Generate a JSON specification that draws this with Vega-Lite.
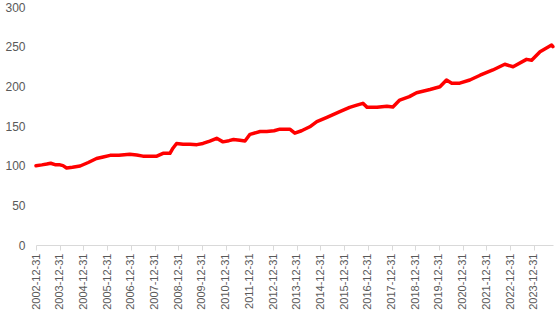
{
  "$schema": "https://vega.github.io/schema/vega-lite/v6.json",
  "width": 517,
  "height": 238,
  "autosize": {"type": "none"},
  "padding": {"left": 36, "top": 7, "right": 5, "bottom": 71},
  "background": "white",
  "config": {"view": {"stroke": null}, "font": "Liberation Sans"},
  "data": {"values": [
    {"date": "2002-12-31", "v": 100},
    {"date": "2003-03-31", "v": 101},
    {"date": "2003-06-15", "v": 102},
    {"date": "2003-08-15", "v": 103},
    {"date": "2003-10-31", "v": 101},
    {"date": "2004-01-05", "v": 101},
    {"date": "2004-02-20", "v": 100},
    {"date": "2004-04-15", "v": 97},
    {"date": "2004-07-15", "v": 98},
    {"date": "2004-11-10", "v": 99.6},
    {"date": "2005-03-15", "v": 104},
    {"date": "2005-07-20", "v": 109},
    {"date": "2005-10-31", "v": 111},
    {"date": "2006-02-15", "v": 113},
    {"date": "2006-06-30", "v": 113},
    {"date": "2006-12-15", "v": 114.5},
    {"date": "2007-03-31", "v": 113.5},
    {"date": "2007-07-05", "v": 112},
    {"date": "2007-10-31", "v": 112},
    {"date": "2008-02-05", "v": 112},
    {"date": "2008-05-10", "v": 115.5},
    {"date": "2008-08-25", "v": 115.5},
    {"date": "2008-10-10", "v": 122},
    {"date": "2008-12-05", "v": 128},
    {"date": "2009-03-15", "v": 127},
    {"date": "2009-07-01", "v": 127},
    {"date": "2009-10-15", "v": 126.5},
    {"date": "2010-01-15", "v": 128},
    {"date": "2010-05-01", "v": 131},
    {"date": "2010-08-15", "v": 134.5},
    {"date": "2010-11-20", "v": 130},
    {"date": "2011-02-20", "v": 131.5},
    {"date": "2011-05-01", "v": 133},
    {"date": "2011-08-07", "v": 132},
    {"date": "2011-10-25", "v": 131},
    {"date": "2012-01-10", "v": 139.5},
    {"date": "2012-06-15", "v": 143},
    {"date": "2012-09-25", "v": 143},
    {"date": "2013-01-15", "v": 144},
    {"date": "2013-04-15", "v": 146},
    {"date": "2013-09-15", "v": 146},
    {"date": "2013-12-01", "v": 141},
    {"date": "2014-03-15", "v": 144},
    {"date": "2014-07-20", "v": 149},
    {"date": "2014-11-05", "v": 155.5},
    {"date": "2015-04-10", "v": 161},
    {"date": "2015-10-25", "v": 168},
    {"date": "2016-03-25", "v": 173.5},
    {"date": "2016-07-01", "v": 176},
    {"date": "2016-10-15", "v": 178.6},
    {"date": "2016-12-20", "v": 173.5},
    {"date": "2017-05-20", "v": 173.5},
    {"date": "2017-10-20", "v": 175},
    {"date": "2018-01-20", "v": 174},
    {"date": "2018-05-05", "v": 182.7},
    {"date": "2018-10-01", "v": 187},
    {"date": "2019-01-20", "v": 192},
    {"date": "2019-08-15", "v": 196},
    {"date": "2020-01-15", "v": 199.5},
    {"date": "2020-04-25", "v": 208},
    {"date": "2020-07-15", "v": 204},
    {"date": "2020-11-15", "v": 204},
    {"date": "2021-04-20", "v": 208},
    {"date": "2021-09-25", "v": 214},
    {"date": "2022-04-10", "v": 220.6},
    {"date": "2022-10-10", "v": 227.8},
    {"date": "2023-02-15", "v": 224.7},
    {"date": "2023-09-10", "v": 234},
    {"date": "2023-11-28", "v": 233},
    {"date": "2024-04-05", "v": 243.6},
    {"date": "2024-10-01", "v": 252},
    {"date": "2024-10-20", "v": 250}
  ]},
  "mark": {"type": "line", "color": "#FF0000", "strokeWidth": 3.5, "strokeJoin": "round", "strokeCap": "round"},
  "encoding": {
    "x": {
      "field": "date",
      "type": "temporal",
      "title": null,
      "scale": {"type": "utc", "domain": [
        {"year": 2002, "month": 12, "date": 31, "utc": true},
        {"year": 2024, "month": 10, "date": 22, "utc": true}
      ]},
      "axis": {
        "values": [
          {"year": 2002, "month": 12, "date": 31, "utc": true},
          {"year": 2003, "month": 12, "date": 31, "utc": true},
          {"year": 2004, "month": 12, "date": 31, "utc": true},
          {"year": 2005, "month": 12, "date": 31, "utc": true},
          {"year": 2006, "month": 12, "date": 31, "utc": true},
          {"year": 2007, "month": 12, "date": 31, "utc": true},
          {"year": 2008, "month": 12, "date": 31, "utc": true},
          {"year": 2009, "month": 12, "date": 31, "utc": true},
          {"year": 2010, "month": 12, "date": 31, "utc": true},
          {"year": 2011, "month": 12, "date": 31, "utc": true},
          {"year": 2012, "month": 12, "date": 31, "utc": true},
          {"year": 2013, "month": 12, "date": 31, "utc": true},
          {"year": 2014, "month": 12, "date": 31, "utc": true},
          {"year": 2015, "month": 12, "date": 31, "utc": true},
          {"year": 2016, "month": 12, "date": 31, "utc": true},
          {"year": 2017, "month": 12, "date": 31, "utc": true},
          {"year": 2018, "month": 12, "date": 31, "utc": true},
          {"year": 2019, "month": 12, "date": 31, "utc": true},
          {"year": 2020, "month": 12, "date": 31, "utc": true},
          {"year": 2021, "month": 12, "date": 31, "utc": true},
          {"year": 2022, "month": 12, "date": 31, "utc": true},
          {"year": 2023, "month": 12, "date": 31, "utc": true}
        ],
        "format": "%Y-%m-%d",
        "labelAngle": -90,
        "labelFontSize": 11,
        "labelColor": "#595959",
        "labelPadding": 3,
        "labelOverlap": false,
        "labelFlush": false,
        "domainColor": "#d9d9d9",
        "tickColor": "#d9d9d9",
        "tickSize": 5,
        "grid": false
      }
    },
    "y": {
      "field": "v",
      "type": "quantitative",
      "title": null,
      "scale": {"domain": [0, 300], "nice": false},
      "axis": {
        "values": [0, 50, 100, 150, 200, 250, 300],
        "labelFontSize": 12,
        "labelColor": "#595959",
        "labelPadding": 11,
        "domain": false,
        "ticks": false,
        "grid": false
      }
    }
  }
}
